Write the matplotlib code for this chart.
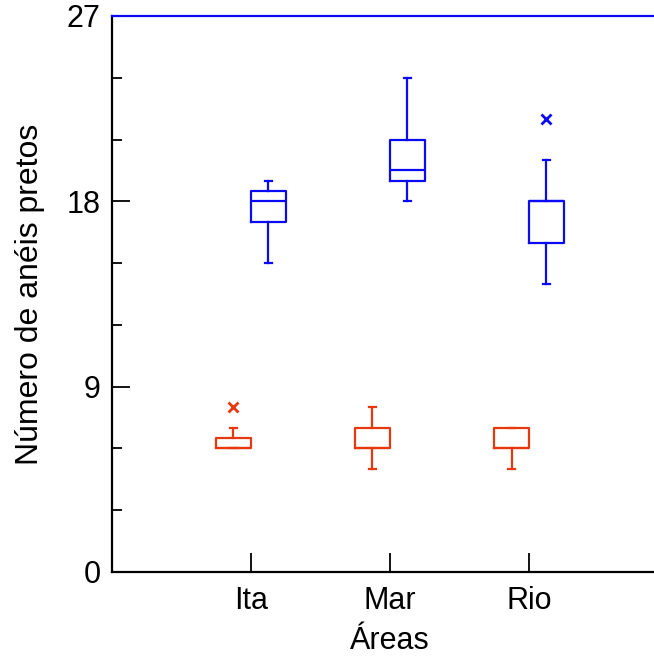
import matplotlib

matplotlib.use("Agg")
import matplotlib.pyplot as plt

plt.rcParams["font.family"] = ["Liberation Sans", "DejaVu Sans"]

areas = ["Ita", "Mar", "Rio"]

# lower group (red)
red_whislo = [6, 5, 5]
red_q1 = [6, 6, 6]
red_med = [6, 6, 6]
red_q3 = [6.5, 7, 7]
red_whishi = [7, 8, 7]
red_fliers = [[8], [], []]

# upper group (blue)
blue_whislo = [15, 18, 14]
blue_q1 = [17, 19, 16]
blue_med = [18, 19.5, 18]
blue_q3 = [18.5, 21, 18]
blue_whishi = [19, 24, 20]
blue_fliers = [[], [], [22]]

RED = "#e8380d"
BLUE = "#0a0af5"


def make_stats(lo, q1, med, q3, hi, fl):
    stats = []
    for i in range(len(lo)):
        stats.append({"whislo": lo[i], "q1": q1[i], "med": med[i], "q3": q3[i],
                      "whishi": hi[i], "fliers": fl[i]})
    return stats


def draw(ax, stats, positions, color):
    ax.bxp(stats, positions=positions, widths=0.25, capwidths=0.05,
           showfliers=True, manage_ticks=False,
           boxprops=dict(color=color, linewidth=1.6),
           medianprops=dict(color=color, linewidth=1.6),
           whiskerprops=dict(color=color, linewidth=1.6),
           capprops=dict(color=color, linewidth=1.6),
           flierprops=dict(marker="x", markeredgecolor=color, markersize=7,
                           markeredgewidth=2, linestyle="none"))


fig = plt.figure(figsize=(6.54, 6.58), dpi=100)
ax = fig.add_axes([0.171, 0.1307, 0.829, 0.845])

x = list(range(1, len(areas) + 1))
draw(ax, make_stats(red_whislo, red_q1, red_med, red_q3, red_whishi, red_fliers),
     [p - 0.125 for p in x], RED)
draw(ax, make_stats(blue_whislo, blue_q1, blue_med, blue_q3, blue_whishi, blue_fliers),
     [p + 0.125 for p in x], BLUE)

ax.set_xlim(0, 3.9)
ax.set_ylim(0, 27)
ax.set_yticks([0, 9, 18, 27])
ax.set_yticks([3, 6, 12, 15, 21, 24], minor=True)
ax.set_xticks(x)
ax.set_xticklabels(areas)

ax.tick_params(axis="y", which="major", direction="in", length=13, width=1.3,
               labelsize=22, pad=8)
ax.tick_params(axis="y", which="minor", direction="in", length=7, width=1.3)
ax.tick_params(axis="x", which="major", direction="in", length=14, width=1.3,
               labelsize=22, pad=10)

ax.spines["right"].set_visible(False)
ax.spines["top"].set_color(BLUE)
for s in ["left", "bottom", "top"]:
    ax.spines[s].set_linewidth(1.6)

ax.set_ylabel("Número de anéis pretos", fontsize=23)
ax.yaxis.set_label_coords(-0.124, 0.5)
ax.set_xlabel("Áreas", fontsize=22)
ax.xaxis.set_label_coords(2 / 3.9, -0.097)

fig.savefig("out.png", dpi=100)
